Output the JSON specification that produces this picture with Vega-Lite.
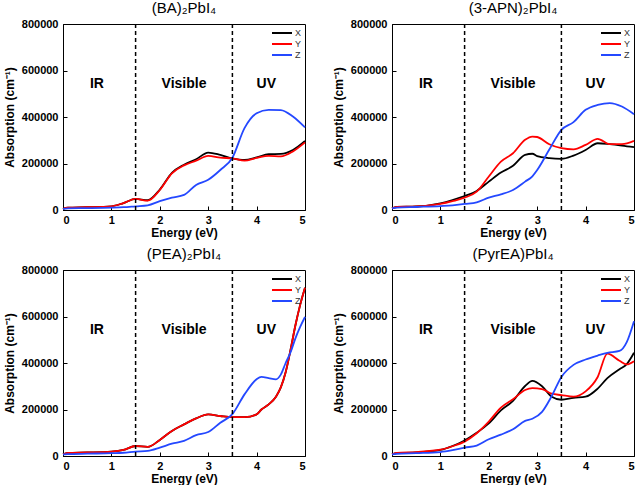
{
  "$schema": "https://vega.github.io/schema/vega-lite/v6.json",
  "padding": {"left": 2, "top": 0, "right": 2, "bottom": 0},
  "background": "white",
  "bounds": "flush",
  "columns": 2,
  "spacing": {"row": 60, "column": 87},
  "datasets": {
    "BA": [
      {"E":0,"X":5000,"Y":5000,"Z":5000},{"E":0.1,"X":10000,"Y":10000,"Z":7000},{"E":0.5,"X":12000,"Y":12000,"Z":8000},{"E":1.0,"X":16000,"Y":16000,"Z":10000},{"E":1.25,"X":30000,"Y":30000,"Z":12000},{"E":1.5,"X":48000,"Y":48000,"Z":16000},{"E":1.75,"X":42000,"Y":40000,"Z":20000},{"E":2.0,"X":88000,"Y":86000,"Z":38000},{"E":2.25,"X":160000,"Y":158000,"Z":53000},{"E":2.5,"X":195000,"Y":192000,"Z":65000},{"E":2.75,"X":218000,"Y":212000,"Z":108000},{"E":3.0,"X":247000,"Y":233000,"Z":130000},{"E":3.25,"X":237000,"Y":225000,"Z":172000},{"E":3.5,"X":222000,"Y":222000,"Z":225000},{"E":3.75,"X":215000,"Y":212000,"Z":352000},{"E":4.0,"X":226000,"Y":224000,"Z":416000},{"E":4.25,"X":240000,"Y":233000,"Z":431000},{"E":4.5,"X":241000,"Y":231000,"Z":430000},{"E":4.75,"X":258000,"Y":252000,"Z":402000},{"E":5.0,"X":297000,"Y":291000,"Z":355000}
    ],
    "APN": [
      {"E":0,"X":7000,"Y":7000,"Z":7000},{"E":0.1,"X":13000,"Y":13000,"Z":10000},{"E":0.5,"X":15000,"Y":15000,"Z":13000},{"E":1.0,"X":29000,"Y":26000,"Z":17000},{"E":1.25,"X":43000,"Y":38000,"Z":20000},{"E":1.5,"X":60000,"Y":53000,"Z":26000},{"E":1.75,"X":82000,"Y":79000,"Z":33000},{"E":2.0,"X":122000,"Y":144000,"Z":53000},{"E":2.25,"X":161000,"Y":208000,"Z":67000},{"E":2.5,"X":190000,"Y":244000,"Z":86000},{"E":2.75,"X":237000,"Y":302000,"Z":122000},{"E":2.9,"X":242000,"Y":316000,"Z":145000},{"E":3.0,"X":232000,"Y":314000,"Z":172000},{"E":3.25,"X":223000,"Y":283000,"Z":260000},{"E":3.5,"X":220000,"Y":266000,"Z":345000},{"E":3.75,"X":234000,"Y":261000,"Z":378000},{"E":4.0,"X":258000,"Y":280000,"Z":431000},{"E":4.25,"X":287000,"Y":306000,"Z":452000},{"E":4.5,"X":283000,"Y":283000,"Z":460000},{"E":4.75,"X":277000,"Y":283000,"Z":445000},{"E":5.0,"X":270000,"Y":297000,"Z":412000}
    ],
    "PEA": [
      {"E":0,"X":7000,"Y":7000,"Z":7000},{"E":0.1,"X":13000,"Y":13000,"Z":8000},{"E":0.5,"X":15000,"Y":15000,"Z":10000},{"E":1.0,"X":19000,"Y":19000,"Z":12000},{"E":1.25,"X":26000,"Y":26000,"Z":14000},{"E":1.5,"X":43000,"Y":43000,"Z":19000},{"E":1.75,"X":39000,"Y":39000,"Z":22000},{"E":2.0,"X":69000,"Y":69000,"Z":36000},{"E":2.25,"X":108000,"Y":108000,"Z":53000},{"E":2.5,"X":136000,"Y":136000,"Z":65000},{"E":2.75,"X":162000,"Y":162000,"Z":90000},{"E":3.0,"X":179000,"Y":179000,"Z":103000},{"E":3.25,"X":172000,"Y":172000,"Z":143000},{"E":3.5,"X":167000,"Y":167000,"Z":180000},{"E":3.75,"X":167000,"Y":167000,"Z":265000},{"E":4.0,"X":179000,"Y":179000,"Z":330000},{"E":4.1,"X":200000,"Y":200000,"Z":340000},{"E":4.25,"X":222000,"Y":222000,"Z":335000},{"E":4.4,"X":255000,"Y":255000,"Z":330000},{"E":4.5,"X":295000,"Y":295000,"Z":350000},{"E":4.6,"X":360000,"Y":360000,"Z":400000},{"E":4.7,"X":455000,"Y":455000,"Z":445000},{"E":4.8,"X":560000,"Y":560000,"Z":505000},{"E":4.9,"X":650000,"Y":650000,"Z":555000},{"E":5.0,"X":724000,"Y":724000,"Z":598000}
    ],
    "PyrEA": [
      {"E":0,"X":7000,"Y":7000,"Z":7000},{"E":0.1,"X":12000,"Y":13000,"Z":9000},{"E":0.5,"X":15000,"Y":17000,"Z":12000},{"E":1.0,"X":26000,"Y":27000,"Z":17000},{"E":1.25,"X":43000,"Y":42000,"Z":25000},{"E":1.5,"X":67000,"Y":62000,"Z":36000},{"E":1.75,"X":100000,"Y":98000,"Z":45000},{"E":2.0,"X":140000,"Y":148000,"Z":72000},{"E":2.25,"X":196000,"Y":208000,"Z":92000},{"E":2.5,"X":237000,"Y":244000,"Z":115000},{"E":2.75,"X":301000,"Y":284000,"Z":151000},{"E":2.9,"X":323000,"Y":292000,"Z":160000},{"E":3.1,"X":300000,"Y":288000,"Z":190000},{"E":3.3,"X":255000,"Y":268000,"Z":258000},{"E":3.5,"X":242000,"Y":262000,"Z":340000},{"E":3.75,"X":250000,"Y":255000,"Z":392000},{"E":4.0,"X":255000,"Y":278000,"Z":415000},{"E":4.25,"X":290000,"Y":340000,"Z":432000},{"E":4.45,"X":335000,"Y":440000,"Z":444000},{"E":4.7,"X":373000,"Y":410000,"Z":452000},{"E":4.85,"X":395000,"Y":394000,"Z":490000},{"E":5.0,"X":444000,"Y":408000,"Z":580000}
    ],
    "regions": [{"E":0.7,"A":540000,"t":"IR"},{"E":2.5,"A":540000,"t":"Visible"},{"E":4.2,"A":540000,"t":"UV"}],
    "dividers": [{"E":1.5},{"E":3.5}]
  },
  "concat": [
    {
      "title": "(BA)₂PbI₄",
      "width": 242, "height": 186,
      "resolve": {"scale": {"color": "independent"}, "legend": {"color": "independent"}},
      "layer": [
        {"data": {"name": "BA"}, "transform": [{"fold": ["X","Y","Z"], "as": ["dir","A"]}],
         "mark": {"type": "line", "interpolate": "monotone", "strokeWidth": 1.8},
         "encoding": {
           "x": {"field": "E", "type": "quantitative", "scale": {"domain": [0,5], "nice": false}, "axis": {"title": "Energy (eV)", "values": [0,0.5,1,1.5,2,2.5,3,3.5,4,4.5,5], "labelExpr": "datum.value % 1 == 0 ? datum.label : ''"}},
           "y": {"field": "A", "type": "quantitative", "scale": {"domain": [0,800000], "nice": false}, "axis": {"title": "Absorption (cm⁻¹)", "format": "d", "values": [0,100000,200000,300000,400000,500000,600000,700000,800000], "labelExpr": "datum.value % 200000 == 0 ? datum.label : ''"}},
           "color": {"field": "dir", "type": "nominal", "scale": {"domain": ["X","Y","Z"], "range": ["#000000","#ff0000","#2448ff"]}, "legend": {"title": null}}
         }},
        {"data": {"name": "dividers"}, "mark": {"type": "rule", "strokeDash": [4,3], "strokeWidth": 1.5, "color": "#000000"},
         "encoding": {"x": {"field": "E", "type": "quantitative"}}},
        {"data": {"name": "regions"}, "mark": {"type": "text", "fontSize": 14, "fontWeight": "bold", "color": "#000000"},
         "encoding": {"x": {"field": "E", "type": "quantitative"}, "y": {"field": "A", "type": "quantitative"}, "text": {"field": "t"}}}
      ]
    },
    {
      "title": "(3-APN)₂PbI₄",
      "width": 242, "height": 186,
      "resolve": {"scale": {"color": "independent"}, "legend": {"color": "independent"}},
      "layer": [
        {"data": {"name": "APN"}, "transform": [{"fold": ["X","Y","Z"], "as": ["dir","A"]}],
         "mark": {"type": "line", "interpolate": "monotone", "strokeWidth": 1.8},
         "encoding": {
           "x": {"field": "E", "type": "quantitative", "scale": {"domain": [0,5], "nice": false}, "axis": {"title": "Energy (eV)", "values": [0,0.5,1,1.5,2,2.5,3,3.5,4,4.5,5], "labelExpr": "datum.value % 1 == 0 ? datum.label : ''"}},
           "y": {"field": "A", "type": "quantitative", "scale": {"domain": [0,800000], "nice": false}, "axis": {"title": "Absorption (cm⁻¹)", "format": "d", "values": [0,100000,200000,300000,400000,500000,600000,700000,800000], "labelExpr": "datum.value % 200000 == 0 ? datum.label : ''"}},
           "color": {"field": "dir", "type": "nominal", "scale": {"domain": ["X","Y","Z"], "range": ["#000000","#ff0000","#2448ff"]}, "legend": {"title": null}}
         }},
        {"data": {"name": "dividers"}, "mark": {"type": "rule", "strokeDash": [4,3], "strokeWidth": 1.5, "color": "#000000"},
         "encoding": {"x": {"field": "E", "type": "quantitative"}}},
        {"data": {"name": "regions"}, "mark": {"type": "text", "fontSize": 14, "fontWeight": "bold", "color": "#000000"},
         "encoding": {"x": {"field": "E", "type": "quantitative"}, "y": {"field": "A", "type": "quantitative"}, "text": {"field": "t"}}}
      ]
    },
    {
      "title": "(PEA)₂PbI₄",
      "width": 242, "height": 186,
      "resolve": {"scale": {"color": "independent"}, "legend": {"color": "independent"}},
      "layer": [
        {"data": {"name": "PEA"}, "transform": [{"fold": ["X","Y","Z"], "as": ["dir","A"]}],
         "mark": {"type": "line", "interpolate": "monotone", "strokeWidth": 1.8},
         "encoding": {
           "x": {"field": "E", "type": "quantitative", "scale": {"domain": [0,5], "nice": false}, "axis": {"title": "Energy (eV)", "values": [0,0.5,1,1.5,2,2.5,3,3.5,4,4.5,5], "labelExpr": "datum.value % 1 == 0 ? datum.label : ''"}},
           "y": {"field": "A", "type": "quantitative", "scale": {"domain": [0,800000], "nice": false}, "axis": {"title": "Absorption (cm⁻¹)", "format": "d", "values": [0,100000,200000,300000,400000,500000,600000,700000,800000], "labelExpr": "datum.value % 200000 == 0 ? datum.label : ''"}},
           "color": {"field": "dir", "type": "nominal", "scale": {"domain": ["X","Y","Z"], "range": ["#000000","#ff0000","#2448ff"]}, "legend": {"title": null}}
         }},
        {"data": {"name": "dividers"}, "mark": {"type": "rule", "strokeDash": [4,3], "strokeWidth": 1.5, "color": "#000000"},
         "encoding": {"x": {"field": "E", "type": "quantitative"}}},
        {"data": {"name": "regions"}, "mark": {"type": "text", "fontSize": 14, "fontWeight": "bold", "color": "#000000"},
         "encoding": {"x": {"field": "E", "type": "quantitative"}, "y": {"field": "A", "type": "quantitative"}, "text": {"field": "t"}}}
      ]
    },
    {
      "title": "(PyrEA)PbI₄",
      "width": 242, "height": 186,
      "resolve": {"scale": {"color": "independent"}, "legend": {"color": "independent"}},
      "layer": [
        {"data": {"name": "PyrEA"}, "transform": [{"fold": ["X","Y","Z"], "as": ["dir","A"]}],
         "mark": {"type": "line", "interpolate": "monotone", "strokeWidth": 1.8},
         "encoding": {
           "x": {"field": "E", "type": "quantitative", "scale": {"domain": [0,5], "nice": false}, "axis": {"title": "Energy (eV)", "values": [0,0.5,1,1.5,2,2.5,3,3.5,4,4.5,5], "labelExpr": "datum.value % 1 == 0 ? datum.label : ''"}},
           "y": {"field": "A", "type": "quantitative", "scale": {"domain": [0,800000], "nice": false}, "axis": {"title": "Absorption (cm⁻¹)", "format": "d", "values": [0,100000,200000,300000,400000,500000,600000,700000,800000], "labelExpr": "datum.value % 200000 == 0 ? datum.label : ''"}},
           "color": {"field": "dir", "type": "nominal", "scale": {"domain": ["X","Y","Z"], "range": ["#000000","#ff0000","#2448ff"]}, "legend": {"title": null}}
         }},
        {"data": {"name": "dividers"}, "mark": {"type": "rule", "strokeDash": [4,3], "strokeWidth": 1.5, "color": "#000000"},
         "encoding": {"x": {"field": "E", "type": "quantitative"}}},
        {"data": {"name": "regions"}, "mark": {"type": "text", "fontSize": 14, "fontWeight": "bold", "color": "#000000"},
         "encoding": {"x": {"field": "E", "type": "quantitative"}, "y": {"field": "A", "type": "quantitative"}, "text": {"field": "t"}}}
      ]
    }
  ],
  "resolve": {"scale": {"color": "independent"}, "legend": {"color": "independent"}},
  "config": {
    "font": "Liberation Sans",
    "view": {"stroke": "#000000", "strokeWidth": 1},
    "axis": {
      "grid": false, "domainColor": "#000000", "domainWidth": 1, "tickColor": "#000000", "tickSize": -4, "tickWidth": 1,
      "labelColor": "#000000", "labelFont": "Liberation Sans", "labelFontWeight": "bold", "labelFontSize": 11, "labelPadding": 9,
      "titleColor": "#000000", "titleFont": "Liberation Sans", "titleFontWeight": "bold", "titleFontSize": 12, "titlePadding": 5,
      "labelOverlap": false
    },
    "axisX": {"labelPadding": 8, "titlePadding": 2},
    "legend": {
      "orient": "top-right", "offset": 3, "symbolType": "M-3,0H1", "symbolSize": 100, "symbolStrokeWidth": 2,
      "labelFont": "Liberation Sans", "labelFontSize": 9, "labelColor": "#333333", "rowPadding": 0, "padding": 0, "labelOffset": 2
    },
    "title": {"fontSize": 15, "fontWeight": "normal", "font": "Liberation Sans", "color": "#000000", "offset": 2}
  }
}
